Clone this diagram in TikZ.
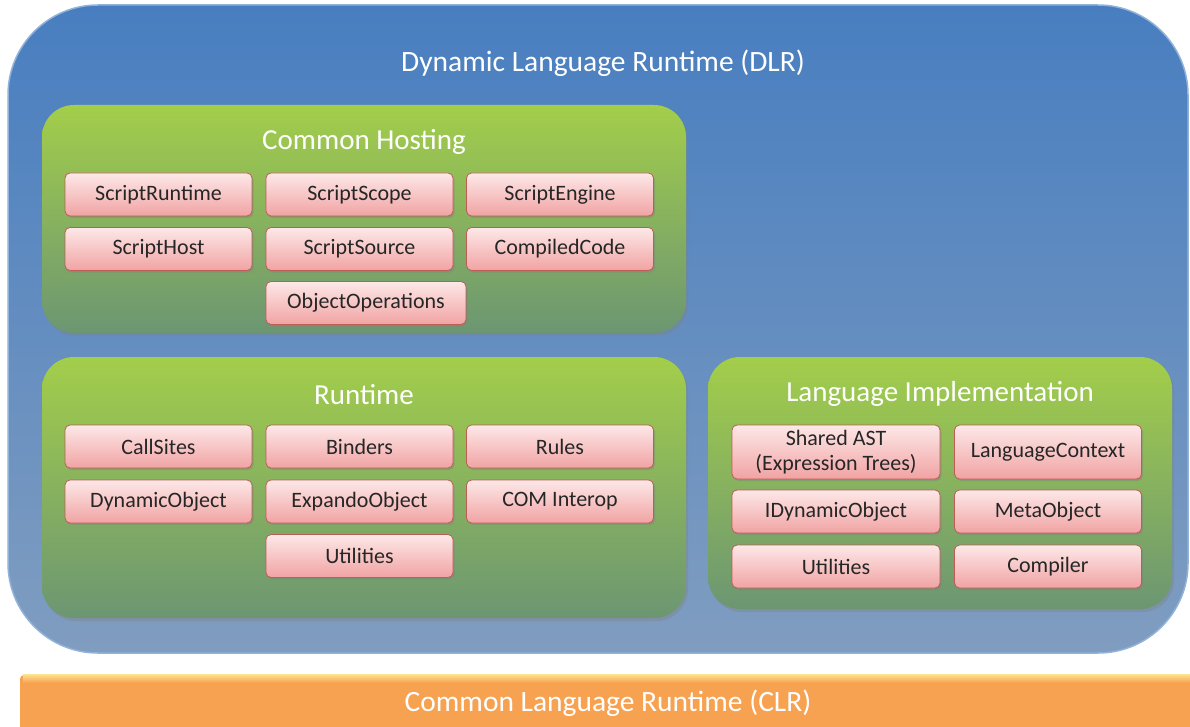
\documentclass[tikz,border=0pt]{standalone}
\usepackage{fontspec}
\setmainfont{Carlito}
\usetikzlibrary{shadows}
\definecolor{dlrtop}{RGB}{72,126,192}
\definecolor{dlrbottom}{RGB}{128,157,192}
\definecolor{grptop}{RGB}{163,206,74}
\definecolor{grpmid}{RGB}{130,180,88}
\definecolor{grpbottom}{RGB}{108,150,114}
\definecolor{parttop}{RGB}{253,232,232}
\definecolor{partbottom}{RGB}{241,163,163}
\definecolor{partline}{RGB}{190,92,86}
\definecolor{clrfill}{RGB}{247,162,80}
\definecolor{clrtop}{RGB}{253,222,140}
\begin{document}
\begin{tikzpicture}[x=1pt,y=-1pt,
				dlr/.style={rounded corners=90pt,top color=dlrtop,middle color=dlrtop!85!dlrbottom,bottom color=dlrbottom,
					draw=dlrtop!60!white,line width=1.5pt,minimum width=1180pt,minimum height=648pt},
				group/.style={rounded corners=32pt,top color=grptop,middle color=grpmid,bottom color=grpbottom,
					drop shadow={opacity=0.35,shadow xshift=2pt,shadow yshift=-3pt}},
				part/.style={rounded corners=5pt,top color=parttop,bottom color=partbottom,draw=partline,line width=0.8pt,
					minimum width=187pt,minimum height=43pt,inner sep=0pt,align=center,text=black!85,
					font=\fontsize{22}{25}\selectfont,
					drop shadow={opacity=0.4,shadow xshift=1.5pt,shadow yshift=-2pt}},
				title/.style={text=white,font=\fontsize{29.5}{32}\selectfont},
				grouptitle/.style={text=white,font=\fontsize{29}{32}\selectfont}]
\useasboundingbox (0,0) rectangle (1190,727);
% outer layer
\node[dlr] (dlrbox) at (598,329) {};
\node[title] (dlrtitle) at (603,63) {Dynamic Language Runtime (DLR)};
% Common Hosting
\node[group,minimum width=644pt,minimum height=228pt] (hosting) at (364,219) {};
\node[grouptitle] (hostingtitle) at (364,142) {Common Hosting};
\node[part] (scriptruntime) at (158.5,194.5) {ScriptRuntime};
\node[part] (scriptscope) at (359.5,194.5) {ScriptScope};
\node[part] (scriptengine) at (560,194.5) {ScriptEngine};
\node[part] (scripthost) at (158.5,249) {ScriptHost};
\node[part] (scriptsource) at (359.5,249) {ScriptSource};
\node[part] (compiledcode) at (560,249) {CompiledCode};
\node[part,minimum width=200pt] (objectops) at (366,303) {ObjectOperations};
% Runtime
\node[group,minimum width=644pt,minimum height=261pt] (runtime) at (364,487.5) {};
\node[grouptitle] (runtimetitle) at (364,395) {Runtime};
\node[part] (callsites) at (158.5,446.5) {CallSites};
\node[part] (binders) at (359.5,446.5) {Binders};
\node[part] (rules) at (560,446.5) {Rules};
\node[part] (dynobject) at (158.5,501.5) {DynamicObject};
\node[part] (expando) at (359.5,501.5) {ExpandoObject};
\node[part] (cominterop) at (560,501.5) {COM Interop};
\node[part] (rtutilities) at (359.5,556) {Utilities};
% Language Implementation
\node[group,minimum width=464pt,minimum height=252pt] (langimpl) at (940,483) {};
\node[grouptitle] (langimpltitle) at (940,394) {Language Implementation};
\node[part,minimum width=208pt,minimum height=54pt] (sharedast) at (836,452) {Shared AST\\(Expression Trees)};
\node[part,minimum height=54pt] (langcontext) at (1048,452) {LanguageContext};
\node[part,minimum width=208pt] (idynobject) at (836,511.5) {IDynamicObject};
\node[part] (metaobject) at (1048,511.5) {MetaObject};
\node[part,minimum width=208pt] (liutilities) at (836,566.5) {Utilities};
\node[part] (compiler) at (1048,566.5) {Compiler};
% CLR bar
\node[rounded corners=4pt,fill=clrfill,minimum width=1175pt,minimum height=60pt] (clr) at (607.5,705) {};
\fill[top color=clrtop,bottom color=clrfill] ([xshift=3pt]clr.north west) rectangle ([xshift=-3pt,yshift=-8pt]clr.north east);
\node[title] (clrtitle) at (608,703) {Common Language Runtime (CLR)};
\end{tikzpicture}
\end{document}
